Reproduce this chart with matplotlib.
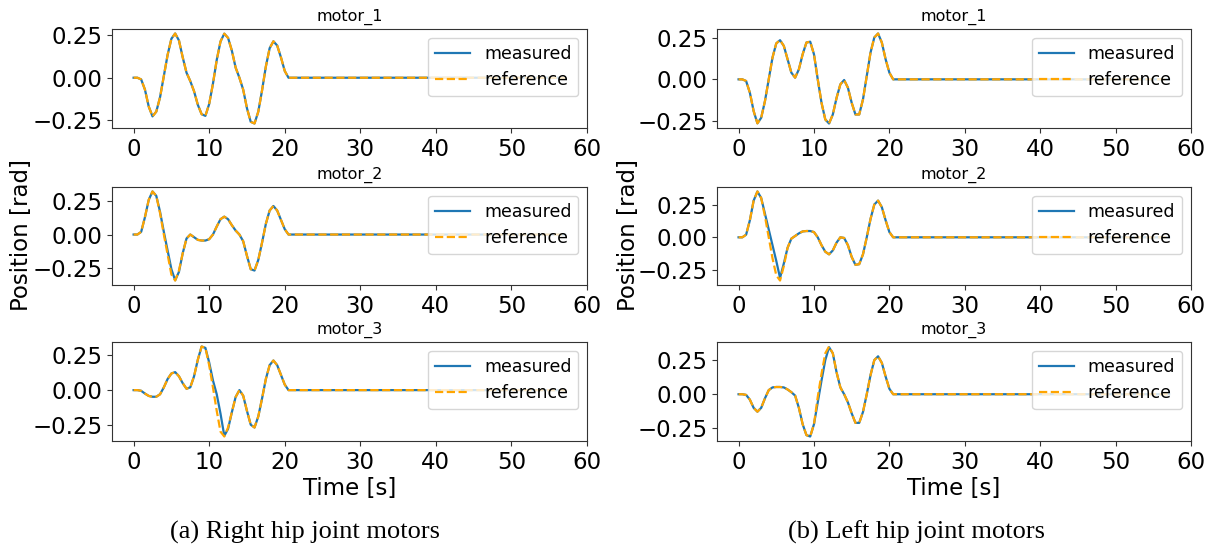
import numpy as np
from matplotlib import pyplot as plt

# time axis: samples every 0.5 s during the motion, then flat until the end
t = np.append(np.arange(0, 21.0, 0.5), 57.1)

# right hip joint motors
right_m1_meas = [0, 0, -0.01, -0.07, -0.17, -0.228, -0.2, -0.115, 0.01, 0.135,
                 0.23, 0.261, 0.22, 0.12, 0.03, -0.02, -0.08, -0.16, -0.215, -0.225,
                 -0.155, -0.035, 0.105, 0.214, 0.26, 0.235, 0.16, 0.06, 0.0, -0.07,
                 -0.18, -0.26, -0.27, -0.2, -0.074, 0.066, 0.174, 0.215, 0.19, 0.12,
                 0.04, 0.0, 0.0]
right_m1_ref = right_m1_meas
right_m2_meas = [0, 0, 0.02, 0.13, 0.26, 0.323, 0.29, 0.17, 0.02, -0.12,
                 -0.26, -0.343, -0.28, -0.14, -0.03, 0.0, -0.02, -0.04, -0.045, -0.045,
                 -0.035, 0.0, 0.06, 0.115, 0.134, 0.115, 0.07, 0.03, 0.0, -0.05,
                 -0.16, -0.26, -0.27, -0.19, -0.06, 0.08, 0.18, 0.214, 0.18, 0.11,
                 0.04, 0.0, 0.0]
right_m2_ref = [0, 0, 0.02, 0.13, 0.26, 0.323, 0.29, 0.16, 0.0, -0.15,
                -0.3, -0.345, -0.27, -0.14, -0.03, 0.0, -0.02, -0.04, -0.045, -0.045,
                -0.035, 0.0, 0.06, 0.115, 0.134, 0.115, 0.07, 0.03, 0.0, -0.05,
                -0.16, -0.26, -0.27, -0.19, -0.06, 0.08, 0.18, 0.214, 0.18, 0.11,
                0.04, 0.0, 0.0]
right_m3_meas = [0, 0, -0.005, -0.025, -0.042, -0.048, -0.048, -0.03, 0.02, 0.08,
                 0.12, 0.13, 0.1, 0.05, 0.01, 0.02, 0.1, 0.22, 0.315, 0.305,
                 0.2, 0.07, -0.03, -0.17, -0.33, -0.28, -0.16, -0.05, 0.0, -0.04,
                 -0.15, -0.25, -0.27, -0.19, -0.06, 0.08, 0.18, 0.214, 0.18, 0.11,
                 0.04, 0.0, 0.0]
right_m3_ref = [0, 0, -0.005, -0.025, -0.042, -0.048, -0.048, -0.03, 0.02, 0.08,
                0.12, 0.13, 0.1, 0.05, 0.01, 0.02, 0.1, 0.22, 0.315, 0.305,
                0.18, 0.02, -0.15, -0.3, -0.335, -0.27, -0.16, -0.05, 0.0, -0.04,
                -0.15, -0.25, -0.27, -0.19, -0.06, 0.08, 0.18, 0.214, 0.18, 0.11,
                0.04, 0.0, 0.0]

# left hip joint motors
left_m1_meas = [0, 0, -0.01, -0.08, -0.19, -0.263, -0.23, -0.13, 0.0, 0.13,
                0.215, 0.234, 0.2, 0.12, 0.04, 0.01, 0.06, 0.15, 0.22, 0.225,
                0.15, 0.0, -0.14, -0.24, -0.264, -0.21, -0.11, -0.03, -0.004, -0.05,
                -0.14, -0.21, -0.21, -0.12, 0.02, 0.16, 0.25, 0.274, 0.22, 0.12,
                0.04, 0.0, 0.0]
left_m1_ref = left_m1_meas
left_m2_meas = [0, 0, 0.02, 0.13, 0.28, 0.35, 0.3, 0.18, 0.06, -0.06,
                -0.18, -0.31, -0.2, -0.08, -0.01, 0.01, 0.03, 0.045, 0.048, 0.048,
                0.04, 0.0, -0.06, -0.11, -0.13, -0.1, -0.04, 0.0, -0.005, -0.06,
                -0.15, -0.21, -0.205, -0.13, 0.0, 0.14, 0.25, 0.28, 0.23, 0.13,
                0.04, 0.0, 0.0]
left_m2_ref = [0, 0, 0.02, 0.13, 0.28, 0.35, 0.3, 0.16, 0.0, -0.16,
               -0.29, -0.33, -0.22, -0.08, -0.01, 0.01, 0.03, 0.045, 0.048, 0.048,
               0.04, 0.0, -0.06, -0.11, -0.13, -0.1, -0.04, 0.0, -0.005, -0.06,
               -0.15, -0.21, -0.205, -0.13, 0.0, 0.14, 0.25, 0.28, 0.23, 0.13,
               0.04, 0.0, 0.0]
left_m3_meas = [0, 0, -0.005, -0.04, -0.1, -0.128, -0.1, -0.03, 0.03, 0.05,
                0.053, 0.053, 0.05, 0.035, 0.015, -0.01, -0.1, -0.22, -0.3, -0.31,
                -0.22, -0.06, 0.1, 0.25, 0.345, 0.3, 0.16, 0.05, 0.0, -0.06,
                -0.14, -0.21, -0.21, -0.13, 0.0, 0.14, 0.25, 0.278, 0.23, 0.13,
                0.04, 0.0, 0.0]
left_m3_ref = [0, 0, -0.005, -0.04, -0.1, -0.128, -0.1, -0.03, 0.03, 0.05,
               0.053, 0.053, 0.05, 0.035, 0.015, -0.01, -0.1, -0.22, -0.3, -0.31,
               -0.22, -0.02, 0.15, 0.3, 0.35, 0.3, 0.16, 0.05, 0.0, -0.06,
               -0.14, -0.21, -0.21, -0.13, 0.0, 0.14, 0.25, 0.278, 0.23, 0.13,
               0.04, 0.0, 0.0]

motor_names = ['motor_1', 'motor_2', 'motor_3']
right_series = [(right_m1_meas, right_m1_ref), (right_m2_meas, right_m2_ref), (right_m3_meas, right_m3_ref)]
left_series = [(left_m1_meas, left_m1_ref), (left_m2_meas, left_m2_ref), (left_m3_meas, left_m3_ref)]
captions = ['(a) Right hip joint motors', '(b) Left hip joint motors']

W, H = 1214, 548
fig = plt.figure(figsize=(W / 100, H / 100), dpi=100)

col_left = [112, 717]
col_width = [475, 474]
row_top = [29, 187, 342]
row_height = [99, 98, 99]
ylabel_x = [22, 628]
caption_x = [305, 916]

for col, series in enumerate([right_series, left_series]):
    for row, (meas, ref) in enumerate(series):
        ax = fig.add_axes([col_left[col] / W, 1 - (row_top[row] + row_height[row]) / H,
                           col_width[col] / W, row_height[row] / H])
        ax.plot(t, meas, color='#1f77b4', linewidth=1.6, label='measured')
        ax.plot(t, ref, color='orange', linestyle='--', linewidth=1.6, label='reference')
        ax.set_xlim(-2.86, 60)
        ax.set_xticks([0, 10, 20, 30, 40, 50, 60])
        ax.set_yticks([-0.25, 0.0, 0.25])
        ax.tick_params(labelsize=16.5, color='#333333')
        for spine in ax.spines.values():
            spine.set_color('#333333')
        ax.set_title(motor_names[row], fontsize=11.5)
        ax.legend(loc='upper right', fontsize=12.5)
        if row == 2:
            ax.set_xlabel('Time [s]', fontsize=16.5, labelpad=2)
    fig.text(ylabel_x[col] / W, 1 - 235 / H, 'Position [rad]', rotation=90,
             ha='center', va='center', fontsize=16.5)
    fig.text(caption_x[col] / W, 1 - 532 / H, captions[col], ha='center', va='center',
             fontsize=19, family='Liberation Serif')

plt.savefig('out.png', dpi=100)
